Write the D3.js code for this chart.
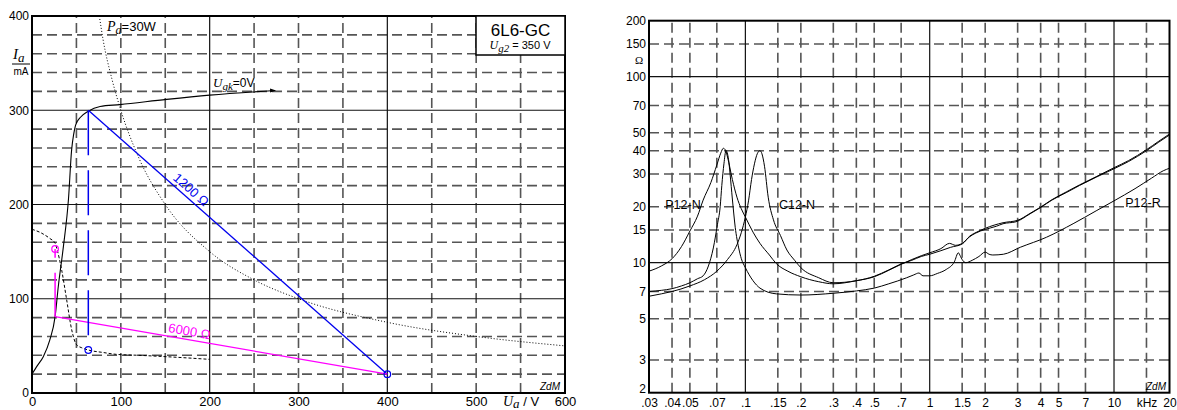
<!DOCTYPE html>
<html><head><meta charset="utf-8">
<script src="https://cdn.jsdelivr.net/npm/d3@7"></script>
<style>
body{margin:0;background:#fff}
svg{display:block}
text{font-family:Arial,"Liberation Sans",sans-serif;fill:#000}
.ser{font-family:"Liberation Serif","Times New Roman",serif;font-style:italic}
</style>
</head><body>
<svg id="c" width="1177" height="410"></svg>
<script>
// ---------- LEFT CHART DATA (Ua in V, Ia in mA) ----------
const leftXTicks = [0,100,200,300,400,500,600];
const leftYTicks = [0,100,200,300,400];
const leftXMajor = [200,400];
const leftXMinor = [50,100,150,250,300,350,450,500,550];
const leftYMajor = [100,200,300];
const leftYMinor = [20,40,60,80,120,140,160,180,220,240,260,280,320,340,360,380];

const ugk0 = [[0,20],[6,29],[12.7,38.5],[20,56],[26,81],[29.6,113],[35.3,155],[41,205],[44.6,258],[47,275],[49,284],[54,292],[63.4,299],[76.6,304],[99,306],[151.6,311.5],[200,316],[273.6,321]];
const screenCurve = [[0,173.7],[10,170],[20,164],[26,159],[28,153],[33.4,130.5],[39,99],[44.7,67],[50.3,51],[56,48],[63.4,45.6],[80,43],[95,41],[120,40],[151.6,38.5],[200,35.7]];
const pa30 = [[75.8,400],[80,375],[90,333],[100,300],[120,250],[150,200],[200,150],[250,120],[300,100],[400,75],[500,60],[600,50]];
const load1200 = [[63.4,300],[400,20]];
const load6000 = [[26,81],[400,20]];
const swing1200 = [[63.4,300],[63.4,45.6]];
const swing6000 = [[26,81],[26,152.8]];
const blueDots = [[63.4,45.6],[400,20]];
const pinkDots = [[26,152.8]];

// ---------- RIGHT CHART DATA (f in kHz, Z in Ohm) ----------
const rightXTicks = [0.03,0.04,0.05,0.07,0.1,0.15,0.2,0.3,0.4,0.5,0.7,1,1.5,2,3,4,5,7,10,15,20];
const rightXLabels = [".03",".04",".05",".07",".1",".15",".2",".3",".4",".5",".7","1","1.5","2","3","4","5","7","10","kHz","20"];
const rightYTicks = [2,3,5,7,10,15,20,30,40,50,70,100,150,200];
const rightXMajor = [0.1,1,10];
const rightXMinor = [0.04,0.05,0.07,0.15,0.2,0.3,0.4,0.5,0.7,1.5,2,3,4,5,7,15];
const rightYMajor = [10,100];
const rightYMinor = [3,5,7,15,20,30,40,50,70,150];

const p12n = [[0.03,9.0],[0.035,9.6],[0.04,10.5],[0.045,12.2],[0.05,14.8],[0.055,17.8],[0.059,21.7],[0.065,27],[0.07,33.5],[0.0735,38.8],[0.0759,41.2],[0.078,40.3],[0.08,37],[0.085,28],[0.09,22.5],[0.095,19.5],[0.1,17.6],[0.11,14.6],[0.12,12.7],[0.135,11],[0.147,9.9],[0.17,9],[0.2,8.4],[0.25,7.9],[0.3,7.7],[0.4,8.0],[0.5,8.4],[0.6,9.1],[0.7,9.8],[0.8,10.4],[0.9,10.9],[1.0,11.3],[1.15,11.9],[1.28,12.7],[1.38,12.4],[1.5,12.7],[1.65,13.8],[1.77,14.4],[2.0,15.1],[2.3,15.7],[2.5,16.2],[2.94,16.6],[3.5,18.3],[4.0,19.8],[4.6,21.7],[5.5,23.8],[6.5,26],[8,28.8],[10,32],[12,35],[15,40],[17.5,44.5],[20,48.6]];
const c12n = [[0.03,6.6],[0.035,6.8],[0.04,7.0],[0.05,7.5],[0.06,8.1],[0.07,9.0],[0.08,10.4],[0.09,12.5],[0.095,14.5],[0.1,17.6],[0.104,21.5],[0.108,28],[0.112,34],[0.116,38.5],[0.12,40],[0.123,38.5],[0.127,33],[0.133,22.5],[0.142,17],[0.155,14],[0.168,11.7],[0.185,10.3],[0.2,9.4],[0.25,8.3],[0.3,7.8],[0.4,8.0],[0.5,8.45],[0.6,9.15],[0.7,9.85],[0.8,10.3],[0.9,10.8],[1.0,11.1],[1.15,11.6],[1.3,12.1],[1.5,12.6],[1.65,13.9],[1.8,14.6],[2.0,15.3],[2.5,16.4],[3.0,16.9],[3.5,18.4],[4.0,19.9],[4.6,21.8],[5.5,24],[6.5,26.2],[8,29],[10,32.4],[12,35.4],[15,40.5],[17.5,45],[20,49.2]];
const p12r = [[0.03,7.0],[0.035,7.1],[0.04,7.25],[0.045,7.5],[0.05,7.8],[0.055,8.2],[0.059,8.5],[0.063,9.6],[0.067,12],[0.0705,16],[0.073,20],[0.0745,26],[0.0765,34],[0.0785,40],[0.081,36],[0.0826,30],[0.085,22],[0.0881,15.5],[0.092,12],[0.0951,10.5],[0.1,9.4],[0.11,8],[0.12,7.3],[0.147,6.8],[0.2,6.7],[0.3,6.85],[0.4,7.05],[0.5,7.3],[0.6,7.7],[0.75,8.3],[0.82,8.6],[0.874,8.8],[0.92,8.5],[1.0,8.5],[1.1,8.75],[1.23,9.2],[1.36,10.1],[1.43,11.3],[1.47,10.8],[1.5,10.4],[1.57,10.0],[1.7,10.3],[1.85,10.8],[2.0,11.4],[2.1,11.1],[2.2,11.0],[2.51,11.1],[3.1,12.1],[4.3,13.7],[6.0,16.2],[8,19],[10,21.5],[13,25],[16,28.5],[18.5,31.2],[20,32.2]];

// ---------- DRAW ----------
const svg = d3.select("#c");
const GRID_DASH = "10,5", GRID_COL = "#555";

function grid(g, x, y, xMaj, xMin, yMaj, yMin){
  const [x0,x1] = x.range(), [y0,y1] = y.range();
  g.selectAll(".vmin").data(xMin).join("line")
    .attr("x1",d=>x(d)).attr("x2",d=>x(d)).attr("y1",y0).attr("y2",y1)
    .attr("stroke",GRID_COL).attr("stroke-width",1.6).attr("stroke-dasharray",GRID_DASH);
  g.selectAll(".hmin").data(yMin).join("line")
    .attr("y1",d=>y(d)).attr("y2",d=>y(d)).attr("x1",x0).attr("x2",x1)
    .attr("stroke",GRID_COL).attr("stroke-width",1.6).attr("stroke-dasharray",GRID_DASH);
  g.selectAll(".vmaj").data(xMaj).join("line")
    .attr("x1",d=>x(d)).attr("x2",d=>x(d)).attr("y1",y0).attr("y2",y1)
    .attr("stroke","#111").attr("stroke-width",1.2);
  g.selectAll(".hmaj").data(yMaj).join("line")
    .attr("y1",d=>y(d)).attr("y2",d=>y(d)).attr("x1",x0).attr("x2",x1)
    .attr("stroke","#111").attr("stroke-width",1.2);
}
function frame(g, x, y){
  const [x0,x1] = x.range(), [y0,y1] = y.range();
  g.append("rect").attr("x",x0).attr("y",y1).attr("width",x1-x0).attr("height",y0-y1)
    .attr("fill","none").attr("stroke","#000").attr("stroke-width",2);
}

// ===== LEFT =====
const xL = d3.scaleLinear().domain([0,600]).range([32,565]);
const yL = d3.scaleLinear().domain([0,400]).range([393,16]);
const gL = svg.append("g");
grid(gL.append("g"), xL, yL, leftXMajor, leftXMinor, leftYMajor, leftYMinor);

const lineL = d3.line().x(d=>xL(d[0])).y(d=>yL(d[1]));
const smoothL = d3.line().x(d=>xL(d[0])).y(d=>yL(d[1])).curve(d3.curveMonotoneX);

gL.append("path").attr("d",smoothL(pa30)).attr("fill","none").attr("stroke","#000").attr("stroke-width",1).attr("stroke-dasharray","1,2");
gL.append("path").attr("d",smoothL(screenCurve)).attr("fill","none").attr("stroke","#000").attr("stroke-width",1).attr("stroke-dasharray","3,2");
gL.append("path").attr("d",smoothL(ugk0)).attr("fill","none").attr("stroke","#000").attr("stroke-width",1.1);
const endP = ugk0[ugk0.length-1];
gL.append("path").attr("d",`M${xL(endP[0])-5},${yL(endP[1])-2}L${xL(endP[0])+1},${yL(endP[1])}L${xL(endP[0])-5},${yL(endP[1])+2}Z`).attr("fill","#000");

gL.append("path").attr("d",lineL(load1200)).attr("fill","none").attr("stroke","#0000ee").attr("stroke-width",1.3);
gL.append("path").attr("d",lineL(load6000)).attr("fill","none").attr("stroke","#ff00ff").attr("stroke-width",1.3);
gL.append("path").attr("d",lineL(swing1200)).attr("fill","none").attr("stroke","#0000ee").attr("stroke-width",1.5).attr("stroke-dasharray","45,15");
gL.append("path").attr("d",lineL(swing6000)).attr("fill","none").attr("stroke","#ff00ff").attr("stroke-width",1.5).attr("stroke-dasharray","44,15");
gL.selectAll(".bd").data(blueDots).join("circle").attr("cx",d=>xL(d[0])).attr("cy",d=>yL(d[1])).attr("r",3.3)
  .attr("fill","none").attr("stroke","#0000ee").attr("stroke-width",1.2);
gL.selectAll(".pd").data(pinkDots).join("circle").attr("cx",d=>xL(d[0])).attr("cy",d=>yL(d[1])).attr("r",3.3)
  .attr("fill","none").attr("stroke","#ff00ff").attr("stroke-width",1.2);

// load line labels
function slopeLabel(g, pts, t, off, txt, col){
  const ax=xL(pts[0][0]), ay=yL(pts[0][1]), bx=xL(pts[1][0]), by=yL(pts[1][1]);
  const ang = Math.atan2(by-ay, bx-ax);
  const px = ax+(bx-ax)*t, py = ay+(by-ay)*t;
  g.append("text").attr("transform",`translate(${px},${py}) rotate(${ang*180/Math.PI}) translate(0,${-off})`)
    .attr("text-anchor","middle").attr("font-size",13).style("fill",col).text(txt);
}
slopeLabel(gL, load1200, 0.325, 4, "1200 Ω", "#0000ee");
slopeLabel(gL, load6000, 0.4, 4, "6000 Ω", "#ff00ff");

frame(gL, xL, yL);

// axes
const axL = gL.append("g").attr("transform",`translate(${xL(0)},0)`)
  .call(d3.axisLeft(yL).tickValues(leftYTicks).tickSize(0).tickPadding(3));
axL.select(".domain").remove();
axL.selectAll("text").attr("font-size",12).style("font-family","Arial,'Liberation Sans',sans-serif");
const axB = gL.append("g").attr("transform",`translate(0,${yL(0)})`)
  .call(d3.axisBottom(xL).tickValues(leftXTicks).tickSize(0).tickPadding(4));
axB.select(".domain").remove();
axB.selectAll("text").attr("font-size",13).style("font-family","Arial,'Liberation Sans',sans-serif");

// labels
const ua = gL.append("text").attr("x",521).attr("y",406).attr("text-anchor","middle").attr("font-size",13);
ua.append("tspan").attr("class","ser").attr("font-size",14).text("U");
ua.append("tspan").attr("class","ser").attr("font-size",13).attr("dy",2).text("a");
ua.append("tspan").attr("dy",-2).text(" / V");

const ia = gL.append("text").attr("x",13).attr("y",59).attr("font-size",15);
ia.append("tspan").attr("class","ser").text("I");
ia.append("tspan").attr("class","ser").attr("font-size",13).attr("dy",3).text("a");
gL.append("line").attr("x1",12).attr("x2",30).attr("y1",64).attr("y2",64).attr("stroke","#000").attr("stroke-width",1);
gL.append("text").attr("x",21).attr("y",75).attr("text-anchor","middle").attr("font-size",10).text("mA");

const pa = gL.append("text").attr("x",107).attr("y",31).attr("font-size",13);
pa.append("tspan").attr("class","ser").attr("font-size",14).text("P");
pa.append("tspan").attr("class","ser").attr("font-size",12).attr("dy",3).text("a");
pa.append("tspan").attr("dy",-3).text("=30W");

const ug = gL.append("text").attr("x",213).attr("y",87).attr("font-size",12);
ug.append("tspan").attr("class","ser").attr("font-size",13).text("U");
ug.append("tspan").attr("class","ser").attr("font-size",11).attr("dy",3).text("gk");
ug.append("tspan").attr("dy",-3).text("=0V");

// type box
gL.append("rect").attr("x",476).attr("y",16).attr("width",89).attr("height",39)
  .attr("fill","#fff").attr("stroke","#000").attr("stroke-width",1.5);
gL.append("text").attr("x",520.5).attr("y",36).attr("text-anchor","middle").attr("font-size",17).text("6L6-GC");
const ug2 = gL.append("text").attr("x",520).attr("y",49).attr("text-anchor","middle").attr("font-size",11);
ug2.append("tspan").attr("class","ser").attr("font-size",12).text("U");
ug2.append("tspan").attr("class","ser").attr("font-size",11).attr("dy",3).text("g2");
ug2.append("tspan").attr("dy",-3).text(" = 350 V");

gL.append("text").attr("x",550).attr("y",390).attr("text-anchor","middle").attr("font-size",10).attr("font-style","italic").text("ZdM");

// ===== RIGHT =====
const xR = d3.scaleLog().domain([0.03,20]).range([649,1169.5]);
const yR = d3.scaleLog().domain([2,200]).range([392.7,20.7]);
const gR = svg.append("g");
grid(gR.append("g"), xR, yR, rightXMajor, rightXMinor, rightYMajor, rightYMinor);
const lineR = d3.line().x(d=>xR(d[0])).y(d=>yR(d[1])).curve(d3.curveMonotoneX);
[p12n, c12n, p12r].forEach(s=>{
  gR.append("path").attr("d",lineR(s)).attr("fill","none").attr("stroke","#000").attr("stroke-width",1);
});
frame(gR, xR, yR);

const axRL = gR.append("g").attr("transform",`translate(${xR.range()[0]},0)`)
  .call(d3.axisLeft(yR).tickValues(rightYTicks).tickFormat(d3.format("d")).tickSize(0).tickPadding(3));
axRL.select(".domain").remove();
axRL.selectAll("text").attr("font-size",12).style("font-family","Arial,'Liberation Sans',sans-serif");
// bottom-most label sits just above the frame corner
axRL.selectAll(".tick").filter(d=>d===2).select("text").attr("dy","-0.05em");
const axRB = gR.append("g").attr("transform",`translate(0,${yR.range()[0]})`)
  .call(d3.axisBottom(xR).tickValues(rightXTicks).tickFormat((d,i)=>rightXLabels[i]).tickSize(0).tickPadding(6));
axRB.select(".domain").remove();
axRB.selectAll("text").attr("font-size",12).style("font-family","Arial,'Liberation Sans',sans-serif");

gR.append("text").attr("x",639).attr("y",64).attr("text-anchor","middle").attr("font-size",11)
  .style("font-family","'Liberation Serif',serif").text("Ω");
gR.append("text").attr("x",683).attr("y",209).attr("text-anchor","middle").attr("font-size",12.5).text("P12-N");
gR.append("text").attr("x",797).attr("y",209).attr("text-anchor","middle").attr("font-size",12.5).text("C12-N");
gR.append("text").attr("x",1143).attr("y",207).attr("text-anchor","middle").attr("font-size",12.5).text("P12-R");
gR.append("text").attr("x",1156).attr("y",390).attr("text-anchor","middle").attr("font-size",10).attr("font-style","italic").text("ZdM");
</script>
</body></html>
